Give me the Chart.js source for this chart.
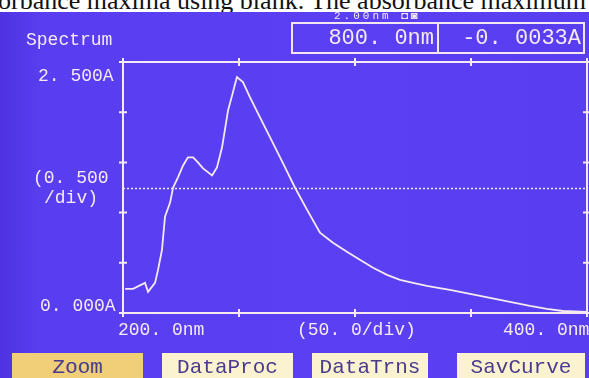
<!DOCTYPE html>
<html>
<head>
<meta charset="utf-8">
<script src="https://cdn.jsdelivr.net/npm/chart.js@4.4.1/dist/chart.umd.min.js"></script>
<style>
  html, body { margin: 0; padding: 0; width: 589px; height: 378px; overflow: hidden; background: #ffffff; }
  #page { position: relative; width: 589px; height: 378px; overflow: hidden; }
  #doc { position: absolute; left: -2px; top: -12px; width: 700px; line-height: 26px; white-space: nowrap; font-family: "Liberation Serif", serif; font-size: 26px; color: #111; }
  #screen { position: absolute; left: 0; top: 12px; width: 589px; height: 366px; background: linear-gradient(90deg, #4f33e2 0%, #583ef0 7%, #5a40f2 60%, #583ef0 100%); }
  canvas { position: absolute; left: 0; top: 0; }
  .t { position: absolute; font-family: "Liberation Mono", monospace; color: #f6eaf2; font-size: 18px; white-space: pre; line-height: 1; }
  .btn { position: absolute; top: 353px; height: 27px; font-family: "Liberation Mono", monospace; font-size: 21px; color: #4a3b8e; text-align: center; line-height: 30px; white-space: pre; }
  #box { position: absolute; left: 291px; top: 22px; width: 294px; height: 32px; border: 2px solid #f3e6f0; box-sizing: border-box; }
  #div1 { position: absolute; left: 437px; top: 22px; width: 2px; height: 32px; background: #f3e6f0; }
</style>
</head>
<body>
<div id="page">
  <div id="doc">orbance maxima using blank. The absorbance maximum</div>
  <div id="screen"></div>
  <canvas id="c" width="589" height="378"></canvas>
  <div class="t" style="left:334px; top:11px; font-size:11px; letter-spacing:3px;">2.00nm ◘◙</div>
  <div class="t" style="left:26px; top:31px; font-size:18px;">Spectrum</div>
  <div id="box"></div>
  <div id="div1"></div>
  <div class="t" style="left:314px; top:28px; width:120px; text-align:right; font-size:22px;">800. 0nm</div>
  <div class="t" style="left:440px; top:28px; width:141px; text-align:right; font-size:22px;">-0. 0033A</div>
  <div class="t" style="left:38px; top:67px;">2. 500A</div>
  <div class="t" style="left:33px; top:169px;">(0. 500</div>
  <div class="t" style="left:44px; top:189px;">/div)</div>
  <div class="t" style="left:40px; top:297px;">0. 000A</div>
  <div class="t" style="left:118px; top:321px;">200. 0nm</div>
  <div class="t" style="left:297px; top:321px;">(50. 0/div)</div>
  <div class="t" style="left:503px; top:321px;">400. 0nm</div>
  <div class="btn" style="left:12px; width:131px; background:#f1cf78;">Zoom</div>
  <div class="btn" style="left:162px; width:131px; background:#fbf2cf;">DataProc</div>
  <div class="btn" style="left:312px; width:116px; background:#fbf2cf;">DataTrns</div>
  <div class="btn" style="left:457px; width:128px; background:#fbf2cf;">SavCurve</div>
</div>
<script>
// Wavelength (nm) and absorbance (A)
const wavelengths = [200.9, 204.3, 209.5, 210.8, 213.8, 215.1, 216.8, 218.1, 220.3, 221.6, 223.7, 225.9, 228.0, 230.2, 232.3, 234.5, 238.4, 240.5, 242.7, 245.3, 247.4, 249.1, 251.7, 254.7, 259.0, 263.4, 269.0, 274.1, 279.3, 284.9, 290.5, 296.5, 302.1, 307.8, 313.8, 319.4, 325.0, 331.0, 335.8, 340.9, 349.6, 358.2, 366.8, 375.4, 382.7, 389.6, 400.0];
const absorbance  = [0.24, 0.24, 0.30, 0.21, 0.30, 0.43, 0.63, 0.96, 1.10, 1.25, 1.35, 1.47, 1.55, 1.55, 1.50, 1.44, 1.37, 1.45, 1.65, 2.02, 2.20, 2.35, 2.30, 2.15, 1.95, 1.75, 1.49, 1.25, 1.03, 0.80, 0.70, 0.61, 0.53, 0.45, 0.38, 0.33, 0.30, 0.27, 0.25, 0.23, 0.19, 0.15, 0.11, 0.07, 0.04, 0.02, 0.01];
const xTicks = [200, 250, 300, 350, 400];
const yTicks = [0, 0.5, 1.0, 1.5, 2.0, 2.5];
const midLine = 1.25;

const LINE = '#f6eaf2';

const framePlugin = {
  id: 'frame',
  beforeDatasetsDraw(chart) {
    const ctx = chart.ctx, a = chart.chartArea;
    const xs = chart.scales.x, ys = chart.scales.y;
    ctx.save();
    ctx.strokeStyle = LINE;
    ctx.lineWidth = 1.5;
    ctx.setLineDash([2, 2]);
    const ym = Math.round(ys.getPixelForValue(midLine)) + 0.5;
    ctx.beginPath(); ctx.moveTo(a.left, ym); ctx.lineTo(a.right, ym); ctx.stroke();
    ctx.setLineDash([]);
    ctx.lineWidth = 2;
    ctx.strokeRect(a.left, a.top, a.right - a.left, a.bottom - a.top);
    ctx.beginPath();
    xTicks.forEach(v => {
      const px = xs.getPixelForValue(v);
      ctx.moveTo(px, a.top - 4); ctx.lineTo(px, a.top + 4);
      ctx.moveTo(px, a.bottom - 4); ctx.lineTo(px, a.bottom + 4);
    });
    yTicks.forEach(v => {
      const py = ys.getPixelForValue(v);
      ctx.moveTo(a.left - 4, py); ctx.lineTo(a.left + 4, py);
      ctx.moveTo(a.right - 4, py); ctx.lineTo(a.right + 4, py);
    });
    ctx.stroke();
    ctx.restore();
  }
};

new Chart(document.getElementById('c'), {
  type: 'line',
  data: {
    datasets: [{
      data: wavelengths.map((w, i) => ({ x: w, y: absorbance[i] })),
      borderColor: LINE,
      borderWidth: 1.8,
      pointRadius: 0,
      tension: 0,
      fill: false
    }]
  },
  options: {
    responsive: false,
    animation: false,
    devicePixelRatio: 1,
    layout: { padding: { left: 123, top: 62, right: 2, bottom: 65 } },
    plugins: { legend: { display: false }, tooltip: { enabled: false } },
    scales: {
      x: { type: 'linear', min: 200, max: 400, display: false },
      y: { type: 'linear', min: 0, max: 2.5, display: false }
    }
  },
  plugins: [framePlugin]
});
</script>
</body>
</html>
